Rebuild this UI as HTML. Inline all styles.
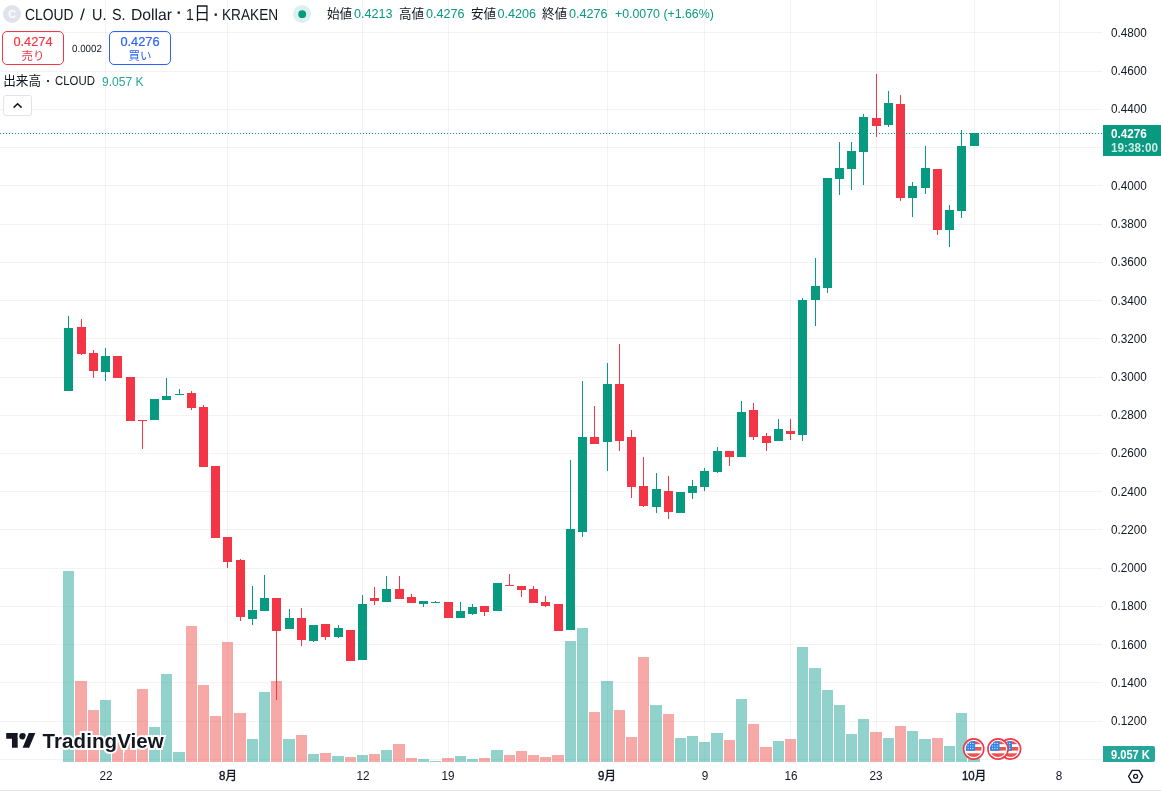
<!DOCTYPE html>
<html lang="ja">
<head>
<meta charset="utf-8">
<title>CLOUD / U. S. Dollar</title>
<style>
html,body{margin:0;padding:0;background:#fff;}
body{width:1161px;height:791px;position:relative;overflow:hidden;font-family:"Liberation Sans","Noto Sans CJK JP",sans-serif;color:#131722;}
.t{position:absolute;white-space:nowrap;line-height:1;transform-origin:0 50%;}
.ttl{font-size:16px;top:7.9px;text-rendering:geometricPrecision;}
.oh{font-size:12.6px;top:8px;}
.oh.v{color:#089981;}
.pl{font-size:12.7px;left:1111.1px;transform:scaleX(0.925);margin-top:0.6px;}
.tl{font-size:12.7px;top:770px;transform:translateX(-50%) scaleX(0.925);transform-origin:50% 50%;}
.box{position:absolute;box-sizing:border-box;border:1px solid;border-radius:5px;width:62px;height:34px;top:31px;}
.box .p{position:absolute;left:0;right:0;text-align:center;top:4px;font-size:12.8px;line-height:1;-webkit-text-stroke:0.2px currentColor;}
.box .l{position:absolute;left:0;right:0;text-align:center;top:19px;font-size:11.5px;line-height:1;}
</style>
</head>
<body>
<svg width="1161" height="791" viewBox="0 0 1161 791" style="position:absolute;left:0;top:0" shape-rendering="crispEdges">
<rect x="0" y="32" width="1102" height="1" fill="#1c2b26" fill-opacity="0.06"/>
<rect x="0" y="71" width="1102" height="1" fill="#1c2b26" fill-opacity="0.06"/>
<rect x="0" y="109" width="1102" height="1" fill="#1c2b26" fill-opacity="0.06"/>
<rect x="0" y="147" width="1102" height="1" fill="#1c2b26" fill-opacity="0.06"/>
<rect x="0" y="185" width="1102" height="1" fill="#1c2b26" fill-opacity="0.06"/>
<rect x="0" y="224" width="1102" height="1" fill="#1c2b26" fill-opacity="0.06"/>
<rect x="0" y="262" width="1102" height="1" fill="#1c2b26" fill-opacity="0.06"/>
<rect x="0" y="300" width="1102" height="1" fill="#1c2b26" fill-opacity="0.06"/>
<rect x="0" y="338" width="1102" height="1" fill="#1c2b26" fill-opacity="0.06"/>
<rect x="0" y="377" width="1102" height="1" fill="#1c2b26" fill-opacity="0.06"/>
<rect x="0" y="415" width="1102" height="1" fill="#1c2b26" fill-opacity="0.06"/>
<rect x="0" y="453" width="1102" height="1" fill="#1c2b26" fill-opacity="0.06"/>
<rect x="0" y="491" width="1102" height="1" fill="#1c2b26" fill-opacity="0.06"/>
<rect x="0" y="529" width="1102" height="1" fill="#1c2b26" fill-opacity="0.06"/>
<rect x="0" y="568" width="1102" height="1" fill="#1c2b26" fill-opacity="0.06"/>
<rect x="0" y="606" width="1102" height="1" fill="#1c2b26" fill-opacity="0.06"/>
<rect x="0" y="644" width="1102" height="1" fill="#1c2b26" fill-opacity="0.06"/>
<rect x="0" y="682" width="1102" height="1" fill="#1c2b26" fill-opacity="0.06"/>
<rect x="0" y="721" width="1102" height="1" fill="#1c2b26" fill-opacity="0.06"/>
<rect x="0" y="759" width="1102" height="1" fill="#1c2b26" fill-opacity="0.06"/>
<rect x="105" y="0" width="1" height="762" fill="#1c2b26" fill-opacity="0.06"/>
<rect x="227" y="0" width="1" height="762" fill="#1c2b26" fill-opacity="0.06"/>
<rect x="362" y="0" width="1" height="762" fill="#1c2b26" fill-opacity="0.06"/>
<rect x="448" y="0" width="1" height="762" fill="#1c2b26" fill-opacity="0.06"/>
<rect x="607" y="0" width="1" height="762" fill="#1c2b26" fill-opacity="0.06"/>
<rect x="704" y="0" width="1" height="762" fill="#1c2b26" fill-opacity="0.06"/>
<rect x="790" y="0" width="1" height="762" fill="#1c2b26" fill-opacity="0.06"/>
<rect x="876" y="0" width="1" height="762" fill="#1c2b26" fill-opacity="0.06"/>
<rect x="974" y="0" width="1" height="762" fill="#1c2b26" fill-opacity="0.06"/>
<rect x="1059" y="0" width="1" height="762" fill="#1c2b26" fill-opacity="0.06"/>
<rect x="63" y="571" width="11" height="191" fill="#26a69a" fill-opacity="0.5"/>
<rect x="75" y="681" width="12" height="81" fill="#ef5350" fill-opacity="0.5"/>
<rect x="88" y="710" width="11" height="52" fill="#ef5350" fill-opacity="0.5"/>
<rect x="100" y="700" width="11" height="62" fill="#26a69a" fill-opacity="0.5"/>
<rect x="112" y="738" width="11" height="24" fill="#ef5350" fill-opacity="0.5"/>
<rect x="124" y="740" width="12" height="22" fill="#ef5350" fill-opacity="0.5"/>
<rect x="137" y="689" width="11" height="73" fill="#ef5350" fill-opacity="0.5"/>
<rect x="149" y="727" width="11" height="35" fill="#26a69a" fill-opacity="0.5"/>
<rect x="161" y="674" width="11" height="88" fill="#26a69a" fill-opacity="0.5"/>
<rect x="173" y="752" width="12" height="10" fill="#26a69a" fill-opacity="0.5"/>
<rect x="186" y="626" width="11" height="136" fill="#ef5350" fill-opacity="0.5"/>
<rect x="198" y="685" width="11" height="77" fill="#ef5350" fill-opacity="0.5"/>
<rect x="210" y="716" width="11" height="46" fill="#ef5350" fill-opacity="0.5"/>
<rect x="222" y="642" width="11" height="120" fill="#ef5350" fill-opacity="0.5"/>
<rect x="234" y="713" width="12" height="49" fill="#ef5350" fill-opacity="0.5"/>
<rect x="247" y="739" width="11" height="23" fill="#26a69a" fill-opacity="0.5"/>
<rect x="259" y="692" width="11" height="70" fill="#26a69a" fill-opacity="0.5"/>
<rect x="271" y="681" width="11" height="81" fill="#ef5350" fill-opacity="0.5"/>
<rect x="283" y="739" width="12" height="23" fill="#26a69a" fill-opacity="0.5"/>
<rect x="296" y="735" width="11" height="27" fill="#ef5350" fill-opacity="0.5"/>
<rect x="308" y="754" width="11" height="8" fill="#26a69a" fill-opacity="0.5"/>
<rect x="320" y="753" width="11" height="9" fill="#ef5350" fill-opacity="0.5"/>
<rect x="332" y="756" width="12" height="6" fill="#26a69a" fill-opacity="0.5"/>
<rect x="345" y="757" width="11" height="5" fill="#ef5350" fill-opacity="0.5"/>
<rect x="357" y="755" width="11" height="7" fill="#26a69a" fill-opacity="0.5"/>
<rect x="369" y="754" width="11" height="8" fill="#ef5350" fill-opacity="0.5"/>
<rect x="381" y="750" width="11" height="12" fill="#26a69a" fill-opacity="0.5"/>
<rect x="393" y="744" width="12" height="18" fill="#ef5350" fill-opacity="0.5"/>
<rect x="406" y="758" width="11" height="4" fill="#ef5350" fill-opacity="0.5"/>
<rect x="418" y="759" width="11" height="3" fill="#26a69a" fill-opacity="0.5"/>
<rect x="430" y="761" width="11" height="1" fill="#26a69a" fill-opacity="0.5"/>
<rect x="442" y="758" width="12" height="4" fill="#ef5350" fill-opacity="0.5"/>
<rect x="455" y="756" width="11" height="6" fill="#26a69a" fill-opacity="0.5"/>
<rect x="467" y="759" width="11" height="3" fill="#26a69a" fill-opacity="0.5"/>
<rect x="479" y="758" width="11" height="4" fill="#ef5350" fill-opacity="0.5"/>
<rect x="491" y="750" width="12" height="12" fill="#26a69a" fill-opacity="0.5"/>
<rect x="504" y="755" width="11" height="7" fill="#ef5350" fill-opacity="0.5"/>
<rect x="516" y="751" width="11" height="11" fill="#ef5350" fill-opacity="0.5"/>
<rect x="528" y="755" width="11" height="7" fill="#ef5350" fill-opacity="0.5"/>
<rect x="540" y="757" width="11" height="5" fill="#ef5350" fill-opacity="0.5"/>
<rect x="552" y="755" width="12" height="7" fill="#ef5350" fill-opacity="0.5"/>
<rect x="565" y="641" width="11" height="121" fill="#26a69a" fill-opacity="0.5"/>
<rect x="577" y="628" width="11" height="134" fill="#26a69a" fill-opacity="0.5"/>
<rect x="589" y="712" width="11" height="50" fill="#ef5350" fill-opacity="0.5"/>
<rect x="601" y="681" width="12" height="81" fill="#26a69a" fill-opacity="0.5"/>
<rect x="614" y="710" width="11" height="52" fill="#ef5350" fill-opacity="0.5"/>
<rect x="626" y="737" width="11" height="25" fill="#ef5350" fill-opacity="0.5"/>
<rect x="638" y="657" width="11" height="105" fill="#ef5350" fill-opacity="0.5"/>
<rect x="650" y="705" width="12" height="57" fill="#26a69a" fill-opacity="0.5"/>
<rect x="663" y="714" width="11" height="48" fill="#ef5350" fill-opacity="0.5"/>
<rect x="675" y="738" width="11" height="24" fill="#26a69a" fill-opacity="0.5"/>
<rect x="687" y="736" width="11" height="26" fill="#26a69a" fill-opacity="0.5"/>
<rect x="699" y="742" width="11" height="20" fill="#26a69a" fill-opacity="0.5"/>
<rect x="711" y="733" width="12" height="29" fill="#26a69a" fill-opacity="0.5"/>
<rect x="724" y="740" width="11" height="22" fill="#ef5350" fill-opacity="0.5"/>
<rect x="736" y="699" width="11" height="63" fill="#26a69a" fill-opacity="0.5"/>
<rect x="748" y="724" width="11" height="38" fill="#ef5350" fill-opacity="0.5"/>
<rect x="760" y="747" width="12" height="15" fill="#ef5350" fill-opacity="0.5"/>
<rect x="773" y="741" width="11" height="21" fill="#26a69a" fill-opacity="0.5"/>
<rect x="785" y="739" width="11" height="23" fill="#ef5350" fill-opacity="0.5"/>
<rect x="797" y="647" width="11" height="115" fill="#26a69a" fill-opacity="0.5"/>
<rect x="809" y="668" width="12" height="94" fill="#26a69a" fill-opacity="0.5"/>
<rect x="822" y="690" width="11" height="72" fill="#26a69a" fill-opacity="0.5"/>
<rect x="834" y="705" width="11" height="57" fill="#26a69a" fill-opacity="0.5"/>
<rect x="846" y="734" width="11" height="28" fill="#26a69a" fill-opacity="0.5"/>
<rect x="858" y="719" width="11" height="43" fill="#26a69a" fill-opacity="0.5"/>
<rect x="870" y="732" width="12" height="30" fill="#ef5350" fill-opacity="0.5"/>
<rect x="883" y="738" width="11" height="24" fill="#26a69a" fill-opacity="0.5"/>
<rect x="895" y="726" width="11" height="36" fill="#ef5350" fill-opacity="0.5"/>
<rect x="907" y="731" width="11" height="31" fill="#26a69a" fill-opacity="0.5"/>
<rect x="919" y="739" width="12" height="23" fill="#26a69a" fill-opacity="0.5"/>
<rect x="932" y="738" width="11" height="24" fill="#ef5350" fill-opacity="0.5"/>
<rect x="944" y="746" width="11" height="16" fill="#26a69a" fill-opacity="0.5"/>
<rect x="956" y="713" width="11" height="49" fill="#26a69a" fill-opacity="0.5"/>
<rect x="968" y="759" width="12" height="3" fill="#26a69a" fill-opacity="0.5"/>
<rect x="68" y="316" width="1" height="75" fill="#089981"/>
<rect x="64" y="328" width="9" height="63" fill="#089981"/>
<rect x="81" y="319" width="1" height="36" fill="#f23645"/>
<rect x="77" y="327" width="9" height="27" fill="#f23645"/>
<rect x="93" y="350" width="1" height="28" fill="#f23645"/>
<rect x="89" y="353" width="9" height="18" fill="#f23645"/>
<rect x="105" y="348" width="1" height="33" fill="#089981"/>
<rect x="101" y="356" width="9" height="16" fill="#089981"/>
<rect x="117" y="356" width="1" height="22" fill="#f23645"/>
<rect x="113" y="356" width="9" height="22" fill="#f23645"/>
<rect x="130" y="377" width="1" height="44" fill="#f23645"/>
<rect x="126" y="377" width="9" height="44" fill="#f23645"/>
<rect x="142" y="420" width="1" height="29" fill="#f23645"/>
<rect x="138" y="420" width="9" height="1" fill="#f23645"/>
<rect x="154" y="399" width="1" height="21" fill="#089981"/>
<rect x="150" y="399" width="9" height="21" fill="#089981"/>
<rect x="166" y="378" width="1" height="22" fill="#089981"/>
<rect x="162" y="396" width="9" height="4" fill="#089981"/>
<rect x="179" y="389" width="1" height="6" fill="#089981"/>
<rect x="175" y="394" width="9" height="1" fill="#089981"/>
<rect x="191" y="391" width="1" height="19" fill="#f23645"/>
<rect x="187" y="393" width="9" height="15" fill="#f23645"/>
<rect x="203" y="405" width="1" height="62" fill="#f23645"/>
<rect x="199" y="407" width="9" height="60" fill="#f23645"/>
<rect x="215" y="466" width="1" height="72" fill="#f23645"/>
<rect x="211" y="466" width="9" height="72" fill="#f23645"/>
<rect x="227" y="537" width="1" height="31" fill="#f23645"/>
<rect x="223" y="537" width="9" height="25" fill="#f23645"/>
<rect x="240" y="559" width="1" height="62" fill="#f23645"/>
<rect x="236" y="560" width="9" height="57" fill="#f23645"/>
<rect x="252" y="586" width="1" height="39" fill="#089981"/>
<rect x="248" y="610" width="9" height="9" fill="#089981"/>
<rect x="264" y="575" width="1" height="36" fill="#089981"/>
<rect x="260" y="598" width="9" height="13" fill="#089981"/>
<rect x="276" y="598" width="1" height="102" fill="#f23645"/>
<rect x="272" y="598" width="9" height="33" fill="#f23645"/>
<rect x="289" y="609" width="1" height="20" fill="#089981"/>
<rect x="285" y="618" width="9" height="11" fill="#089981"/>
<rect x="301" y="608" width="1" height="38" fill="#f23645"/>
<rect x="297" y="618" width="9" height="22" fill="#f23645"/>
<rect x="313" y="625" width="1" height="17" fill="#089981"/>
<rect x="309" y="625" width="9" height="16" fill="#089981"/>
<rect x="325" y="624" width="1" height="16" fill="#f23645"/>
<rect x="321" y="624" width="9" height="13" fill="#f23645"/>
<rect x="338" y="625" width="1" height="13" fill="#089981"/>
<rect x="334" y="628" width="9" height="9" fill="#089981"/>
<rect x="350" y="630" width="1" height="31" fill="#f23645"/>
<rect x="346" y="630" width="9" height="31" fill="#f23645"/>
<rect x="362" y="595" width="1" height="65" fill="#089981"/>
<rect x="358" y="604" width="9" height="56" fill="#089981"/>
<rect x="374" y="587" width="1" height="18" fill="#f23645"/>
<rect x="370" y="598" width="9" height="3" fill="#f23645"/>
<rect x="386" y="576" width="1" height="26" fill="#089981"/>
<rect x="382" y="589" width="9" height="13" fill="#089981"/>
<rect x="399" y="576" width="1" height="23" fill="#f23645"/>
<rect x="395" y="589" width="9" height="10" fill="#f23645"/>
<rect x="411" y="594" width="1" height="9" fill="#f23645"/>
<rect x="407" y="597" width="9" height="6" fill="#f23645"/>
<rect x="423" y="601" width="1" height="6" fill="#089981"/>
<rect x="419" y="601" width="9" height="3" fill="#089981"/>
<rect x="435" y="601" width="1" height="2" fill="#089981"/>
<rect x="431" y="602" width="9" height="1" fill="#089981"/>
<rect x="448" y="602" width="1" height="16" fill="#f23645"/>
<rect x="444" y="602" width="9" height="16" fill="#f23645"/>
<rect x="460" y="602" width="1" height="16" fill="#089981"/>
<rect x="456" y="611" width="9" height="7" fill="#089981"/>
<rect x="472" y="604" width="1" height="11" fill="#089981"/>
<rect x="468" y="607" width="9" height="7" fill="#089981"/>
<rect x="484" y="606" width="1" height="10" fill="#f23645"/>
<rect x="480" y="606" width="9" height="6" fill="#f23645"/>
<rect x="497" y="583" width="1" height="28" fill="#089981"/>
<rect x="493" y="583" width="9" height="28" fill="#089981"/>
<rect x="509" y="574" width="1" height="12" fill="#f23645"/>
<rect x="505" y="585" width="9" height="1" fill="#f23645"/>
<rect x="521" y="586" width="1" height="11" fill="#f23645"/>
<rect x="517" y="586" width="9" height="4" fill="#f23645"/>
<rect x="533" y="586" width="1" height="17" fill="#f23645"/>
<rect x="529" y="589" width="9" height="14" fill="#f23645"/>
<rect x="545" y="596" width="1" height="11" fill="#f23645"/>
<rect x="541" y="602" width="9" height="4" fill="#f23645"/>
<rect x="558" y="604" width="1" height="27" fill="#f23645"/>
<rect x="554" y="604" width="9" height="27" fill="#f23645"/>
<rect x="570" y="460" width="1" height="170" fill="#089981"/>
<rect x="566" y="529" width="9" height="101" fill="#089981"/>
<rect x="582" y="381" width="1" height="156" fill="#089981"/>
<rect x="578" y="437" width="9" height="95" fill="#089981"/>
<rect x="594" y="406" width="1" height="38" fill="#f23645"/>
<rect x="590" y="437" width="9" height="7" fill="#f23645"/>
<rect x="607" y="363" width="1" height="108" fill="#089981"/>
<rect x="603" y="384" width="9" height="58" fill="#089981"/>
<rect x="619" y="344" width="1" height="107" fill="#f23645"/>
<rect x="615" y="384" width="9" height="57" fill="#f23645"/>
<rect x="631" y="430" width="1" height="68" fill="#f23645"/>
<rect x="627" y="437" width="9" height="50" fill="#f23645"/>
<rect x="643" y="457" width="1" height="50" fill="#f23645"/>
<rect x="639" y="486" width="9" height="20" fill="#f23645"/>
<rect x="656" y="473" width="1" height="40" fill="#089981"/>
<rect x="652" y="489" width="9" height="18" fill="#089981"/>
<rect x="668" y="476" width="1" height="43" fill="#f23645"/>
<rect x="664" y="491" width="9" height="21" fill="#f23645"/>
<rect x="680" y="492" width="1" height="21" fill="#089981"/>
<rect x="676" y="492" width="9" height="21" fill="#089981"/>
<rect x="692" y="480" width="1" height="19" fill="#089981"/>
<rect x="688" y="486" width="9" height="7" fill="#089981"/>
<rect x="704" y="468" width="1" height="23" fill="#089981"/>
<rect x="700" y="471" width="9" height="16" fill="#089981"/>
<rect x="717" y="447" width="1" height="26" fill="#089981"/>
<rect x="713" y="451" width="9" height="21" fill="#089981"/>
<rect x="729" y="451" width="1" height="15" fill="#f23645"/>
<rect x="725" y="451" width="9" height="6" fill="#f23645"/>
<rect x="741" y="401" width="1" height="56" fill="#089981"/>
<rect x="737" y="412" width="9" height="45" fill="#089981"/>
<rect x="753" y="403" width="1" height="37" fill="#f23645"/>
<rect x="749" y="410" width="9" height="27" fill="#f23645"/>
<rect x="766" y="433" width="1" height="18" fill="#f23645"/>
<rect x="762" y="436" width="9" height="7" fill="#f23645"/>
<rect x="778" y="419" width="1" height="22" fill="#089981"/>
<rect x="774" y="429" width="9" height="12" fill="#089981"/>
<rect x="790" y="419" width="1" height="21" fill="#f23645"/>
<rect x="786" y="431" width="9" height="3" fill="#f23645"/>
<rect x="802" y="298" width="1" height="143" fill="#089981"/>
<rect x="798" y="300" width="9" height="135" fill="#089981"/>
<rect x="815" y="258" width="1" height="68" fill="#089981"/>
<rect x="811" y="286" width="9" height="14" fill="#089981"/>
<rect x="827" y="178" width="1" height="115" fill="#089981"/>
<rect x="823" y="178" width="9" height="110" fill="#089981"/>
<rect x="839" y="142" width="1" height="53" fill="#089981"/>
<rect x="835" y="168" width="9" height="11" fill="#089981"/>
<rect x="851" y="142" width="1" height="48" fill="#089981"/>
<rect x="847" y="151" width="9" height="18" fill="#089981"/>
<rect x="863" y="114" width="1" height="71" fill="#089981"/>
<rect x="859" y="117" width="9" height="35" fill="#089981"/>
<rect x="876" y="74" width="1" height="63" fill="#f23645"/>
<rect x="872" y="118" width="9" height="8" fill="#f23645"/>
<rect x="888" y="91" width="1" height="36" fill="#089981"/>
<rect x="884" y="103" width="9" height="22" fill="#089981"/>
<rect x="900" y="95" width="1" height="106" fill="#f23645"/>
<rect x="896" y="104" width="9" height="94" fill="#f23645"/>
<rect x="912" y="182" width="1" height="35" fill="#089981"/>
<rect x="908" y="186" width="9" height="12" fill="#089981"/>
<rect x="925" y="146" width="1" height="48" fill="#089981"/>
<rect x="921" y="168" width="9" height="20" fill="#089981"/>
<rect x="937" y="169" width="1" height="66" fill="#f23645"/>
<rect x="933" y="169" width="9" height="61" fill="#f23645"/>
<rect x="949" y="205" width="1" height="42" fill="#089981"/>
<rect x="945" y="210" width="9" height="20" fill="#089981"/>
<rect x="961" y="130" width="1" height="88" fill="#089981"/>
<rect x="957" y="146" width="9" height="65" fill="#089981"/>
<rect x="974" y="133" width="1" height="13" fill="#089981"/>
<rect x="970" y="133" width="9" height="13" fill="#089981"/>
<line x1="0" y1="133.5" x2="1102" y2="133.5" stroke="#089981" stroke-width="1" stroke-dasharray="1 2"/>
<rect x="1103" y="125" width="58" height="31" fill="#089981"/>
<path d="M1103 746h50a2 2 0 0 1 2 2v12a2 2 0 0 1-2 2h-50z" fill="#26a69a" shape-rendering="auto"/>
<rect x="0" y="790" width="1161" height="1" fill="#e0e3eb"/>
</svg>
<svg width="1161" height="791" viewBox="0 0 1161 791" style="position:absolute;left:0;top:0">
<defs>
<clipPath id="fc"><circle cx="0" cy="0" r="8"/></clipPath>
<g id="flag">
<circle cx="0" cy="0" r="10.1" fill="#fff" stroke="#f23645" stroke-width="1.6"/>
<g clip-path="url(#fc)">
<rect x="-8" y="-8" width="16" height="16" fill="#fff"/>
<rect x="-8" y="-8" width="16" height="3.2" fill="#ef5350"/>
<rect x="-8" y="-2" width="16" height="3.6" fill="#ef5350"/>
<rect x="-8" y="4.3" width="16" height="3.7" fill="#ef5350"/>
<rect x="-8" y="-8" width="9.5" height="9.8" fill="#2f86e8"/>
<g fill="#fff"><circle cx="-5.6" cy="-5.6" r=".55"/><circle cx="-3.2" cy="-5.6" r=".55"/><circle cx="-.8" cy="-5.6" r=".55"/><circle cx="-5.6" cy="-3" r=".55"/><circle cx="-3.2" cy="-3" r=".55"/><circle cx="-.8" cy="-3" r=".55"/><circle cx="-5.6" cy="-.4" r=".55"/><circle cx="-3.2" cy="-.4" r=".55"/><circle cx="-.8" cy="-.4" r=".55"/></g>
</g>
</g>
</defs>
<!-- status dot -->
<circle cx="302" cy="14" r="9" fill="#089981" fill-opacity="0.14"/>
<circle cx="302.2" cy="14.2" r="3.9" fill="#089981"/>
<!-- flags -->
<use href="#flag" x="1010.5" y="749"/>
<use href="#flag" x="998" y="749"/>
<use href="#flag" x="973.7" y="749"/>
<!-- TradingView mark -->
<g transform="translate(6.2,729.7) scale(0.82)" fill="#131722" stroke="#fff" stroke-width="4" paint-order="stroke fill" stroke-linejoin="round">
<path d="M14 22H7V11H0V4h14v18z"/><circle cx="20" cy="8" r="4"/><path d="M28 22h-8l7.5-18h8L28 22z"/>
</g>
<!-- settings hexagon -->
<g fill="none" stroke="#131722" stroke-width="1.3">
<path d="M1128.6 776.3l3.5-6h7l3.5 6-3.5 6h-7z" stroke-linejoin="round"/>
<circle cx="1135.6" cy="776.3" r="2"/>
</g>

</svg>

<!-- legend: symbol -->
<div id="symicon" style="position:absolute;left:3px;top:5px;width:18px;height:18px;border-radius:50%;background:#e0e3eb;"></div>
<span class="t" id="symC" style="left:8.2px;top:8.5px;font-size:11px;font-weight:bold;color:#fff;">C</span>
<span class="t ttl" id="t1" style="left:24.6px;transform:scaleX(0.866);">CLOUD</span>
<span class="t ttl" id="t2" style="left:80.2px;transform:scaleX(1.1);">/</span>
<span class="t ttl" id="t3" style="left:92.2px;transform:scaleX(0.9);">U.</span>
<span class="t ttl" id="t4" style="left:112px;transform:scaleX(0.9);">S.</span>
<span class="t ttl" id="t5" style="left:130.8px;transform:scaleX(0.98);">Dollar</span>
<span class="t ttl" id="t6" style="left:176.5px;top:5.7px;font-weight:bold;">·</span>
<span class="t ttl" id="t7" style="left:186.2px;transform:scaleX(0.875);">1</span>
<span class="t ttl" id="t7b" style="left:193.6px;top:7.4px;transform:scale(1.02,1.19);">日</span>
<span class="t ttl" id="t8" style="left:213.4px;font-weight:bold;">·</span>
<span class="t ttl" id="t9" style="left:221.8px;transform:scaleX(0.853);">KRAKEN</span>
<!-- OHLC -->
<span class="t oh" id="o1" style="left:327px;">始値</span>
<span class="t oh v" id="o2" style="left:354px;">0.4213</span>
<span class="t oh" id="o3" style="left:399px;">高値</span>
<span class="t oh v" id="o4" style="left:426px;">0.4276</span>
<span class="t oh" id="o5" style="left:471px;">安値</span>
<span class="t oh v" id="o6" style="left:497.5px;">0.4206</span>
<span class="t oh" id="o7" style="left:542px;">終値</span>
<span class="t oh v" id="o8" style="left:569px;">0.4276</span>
<span class="t oh v" id="o9" style="left:615px;transform:scaleX(0.98);">+0.0070 (+1.66%)</span>
<!-- buy / sell -->
<div class="box" id="sell" style="left:2px;border-color:#f23645;color:#f23645;"><div class="p">0.4274</div><div class="l">売り</div></div>
<span class="t" id="spread" style="left:71.5px;top:45.2px;font-size:10.4px;text-rendering:geometricPrecision;transform:scaleX(0.94);">0.0002</span>
<div class="box" id="buy" style="left:109px;border-color:#2962ff;color:#2962ff;"><div class="p">0.4276</div><div class="l">買い</div></div>
<!-- volume legend -->
<span class="t" id="v1" style="left:3.2px;top:74.6px;font-size:12.6px;">出来高</span>
<span class="t" id="v2" style="left:46.3px;top:74.8px;font-size:12.6px;font-weight:bold;">·</span>
<span class="t" id="v3" style="left:54.5px;top:74.8px;font-size:12.6px;transform:scaleX(0.905);">CLOUD</span>
<span class="t" id="v4" style="left:102.3px;top:75.6px;font-size:12.6px;color:#26a69a;transform:scaleX(0.96);">9.057 K</span>
<!-- collapse button -->
<div id="coll" style="position:absolute;left:3px;top:95px;width:29px;height:21px;box-sizing:border-box;border:1px solid #e0e3eb;border-radius:3px;background:#fff;"><svg width="27" height="19" viewBox="0 0 27 19" style="position:absolute;left:0;top:0"><path d="M9.6 11.6l4-3.9 4 3.9" fill="none" stroke="#131722" stroke-width="1.5"/></svg></div>
<!-- price axis -->
<span class="t pl" id="p48" style="top:26.5px;">0.4800</span>
<span class="t pl" id="p46" style="top:64.5px;">0.4600</span>
<span class="t pl" id="p44" style="top:102.5px;">0.4400</span>
<span class="t pl" id="p40" style="top:179.5px;">0.4000</span>
<span class="t pl" id="p38" style="top:217.5px;">0.3800</span>
<span class="t pl" id="p36" style="top:255.5px;">0.3600</span>
<span class="t pl" id="p34" style="top:294.5px;">0.3400</span>
<span class="t pl" id="p32" style="top:332.5px;">0.3200</span>
<span class="t pl" id="p30" style="top:370.5px;">0.3000</span>
<span class="t pl" id="p28" style="top:408.5px;">0.2800</span>
<span class="t pl" id="p26" style="top:446.5px;">0.2600</span>
<span class="t pl" id="p24" style="top:485.5px;">0.2400</span>
<span class="t pl" id="p22" style="top:523.5px;">0.2200</span>
<span class="t pl" id="p20" style="top:561.5px;">0.2000</span>
<span class="t pl" id="p18" style="top:599.5px;">0.1800</span>
<span class="t pl" id="p16" style="top:638.5px;">0.1600</span>
<span class="t pl" id="p14" style="top:676.5px;">0.1400</span>
<span class="t pl" id="p12" style="top:714.5px;">0.1200</span>
<span class="t pl" id="cur" style="top:127.9px;color:#fff;font-weight:bold;">0.4276</span>
<span class="t pl" id="cd" style="top:141.9px;color:rgba(255,255,255,0.8);font-weight:bold;">19:38:00</span>
<span class="t pl" id="vlab" style="top:748.1px;color:#fff;font-weight:bold;transform:scaleX(0.875);">9.057 K</span>
<!-- time axis -->
<span class="t tl" id="x1" style="left:105.5px;">22</span>
<span class="t tl" id="x2" style="-webkit-text-stroke:0.4px #131722;font-size:12.4px;top:770.1px;left:228px;">8月</span>
<span class="t tl" id="x3" style="left:362.5px;">12</span>
<span class="t tl" id="x4" style="left:448px;">19</span>
<span class="t tl" id="x5" style="-webkit-text-stroke:0.4px #131722;font-size:12.4px;top:770.1px;left:606.5px;">9月</span>
<span class="t tl" id="x6" style="left:704.5px;">9</span>
<span class="t tl" id="x7" style="left:790.5px;">16</span>
<span class="t tl" id="x8" style="left:876px;">23</span>
<span class="t tl" id="x9" style="-webkit-text-stroke:0.4px #131722;font-size:12.4px;top:770.1px;left:974px;">10月</span>
<span class="t tl" id="x10" style="left:1059px;">8</span>
<!-- logo text -->
<span class="t" id="logo" style="left:42.5px;top:730.7px;font-size:20.5px;font-weight:bold;color:#131722;-webkit-text-stroke:4px #fff;paint-order:stroke fill;letter-spacing:0.09px;">TradingView</span>
</body>
</html>
